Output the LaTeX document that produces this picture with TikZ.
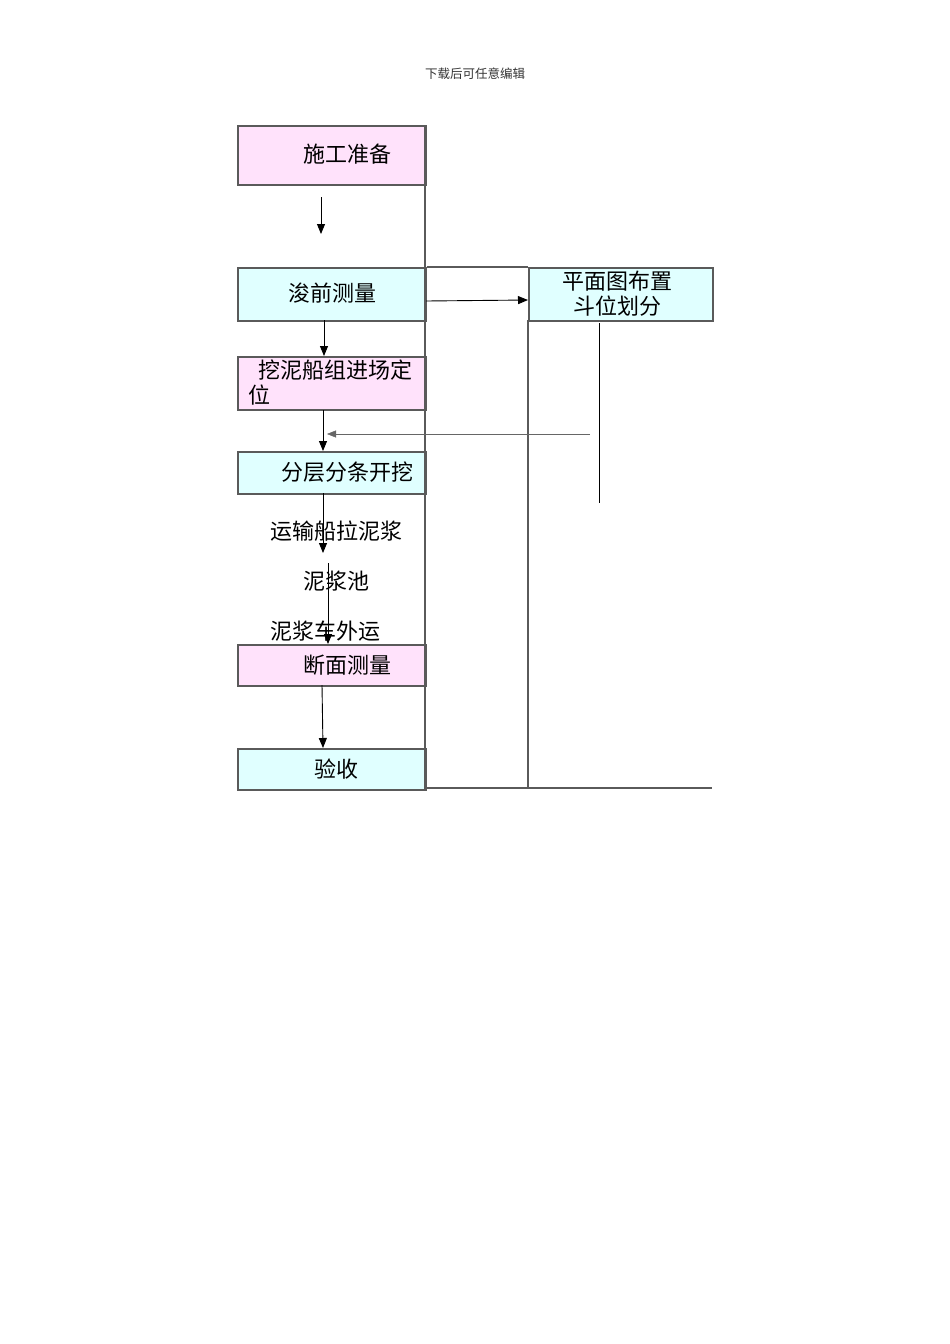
\documentclass[tikz,border=0pt]{standalone}
\usepackage{fontspec}
\newfontfamily\cjk{Noto Sans CJK SC}
\usetikzlibrary{arrows.meta}
\definecolor{pinkbox}{RGB}{255,226,251}
\definecolor{cyanbox}{RGB}{224,255,255}
\definecolor{edge}{RGB}{90,90,90}
\tikzset{
  box/.style={draw=edge, line width=1.6pt, minimum width=188pt, inner sep=0pt, anchor=north west},
  pbox/.style={box, fill=pinkbox},
  cbox/.style={box, fill=cyanbox},
  lbl/.style={font=\cjk\fontsize{22}{26}\selectfont, inner sep=0pt},
  arr/.style={-{Triangle[length=10pt,width=8pt]}, line width=0.9pt},
  thin/.style={draw=edge, line width=1.6pt},
}
\begin{document}
\begin{tikzpicture}[x=1pt,y=-1pt]
\useasboundingbox (0,0) rectangle (950,1344);
\node[font=\cjk\fontsize{12.5}{14}\selectfont, text=black!80, inner sep=0pt] (hdr) at (475,74) {下载后可任意编辑};
% boxes
\node[pbox, minimum height=59pt] (b1) at (237,125) {};
\node[cbox, minimum height=53pt] (b2) at (237,267) {};
\node[pbox, minimum height=53pt] (b3) at (237,356) {};
\node[cbox, minimum height=42pt] (b4) at (237,451) {};
\node[pbox, minimum height=41pt] (b5) at (237,644) {};
\node[cbox, minimum height=41pt] (b6) at (237,748) {};
\node[cbox, minimum height=53pt, minimum width=184pt] (r1) at (528,267) {};
% labels
\node[lbl] (t1) at (347,154) {施工准备};
\node[lbl] (t2) at (332,293) {浚前测量};
\node[lbl, anchor=west] (t3a) at (258,370) {挖泥船组进场定};
\node[lbl, anchor=west] (t3b) at (248,395) {位};
\node[lbl] (t4) at (347,472) {分层分条开挖};
\node[lbl] (t5) at (336,531) {运输船拉泥浆};
\node[lbl] (t6) at (336,581) {泥浆池};
\node[lbl] (t7) at (325,631) {泥浆车外运};
\node[lbl] (t8) at (347,665) {断面测量};
\node[lbl] (t9) at (336,769) {验收};
\node[lbl] (r1a) at (617,281) {平面图布置};
\node[lbl] (r1b) at (617,306) {斗位划分};
% frame lines
\coordinate (ftop) at (425,125);
\coordinate (fbot) at (425,788);
\coordinate (frb) at (712,788);
\coordinate (mtop) at (528,320);
\coordinate (mbot) at (528,787);
\draw[thin] (ftop) -- (fbot) -- (frb);
\draw[thin] (mtop) -- (mbot);
\draw[thin] (b2.north east) -- (r1.north west);
\coordinate (vtop) at (599,323);
\coordinate (vbot) at (599,503);
\draw[line width=0.9pt] (vtop) -- (vbot);
% arrows
\coordinate (a1s) at (321,197);
\coordinate (a1e) at (321,234);
\draw[arr] (a1s) -- (a1e);
\draw[arr] (324,320) -- (b3.north west -| 324,0);
\draw[arr] (323,410) -- (b4.north west -| 323,0);
\coordinate (a4e) at (323,553);
\draw[arr] (323,493) -- (a4e);
\coordinate (a5s) at (328,563);
\draw[arr] (a5s) -- (b5.north west -| 328,0);
\draw[arr] (322,685) -- (b6.north west -| 323,0);
\draw[arr] (426,301) -- (r1.west |- 0,300);
\coordinate (fbs) at (590,434);
\coordinate (fbe) at (327,434);
\draw[-{Triangle[length=9pt,width=7pt]}, line width=0.5pt, draw=black!60] (fbs) -- (fbe);
\end{tikzpicture}
\end{document}
